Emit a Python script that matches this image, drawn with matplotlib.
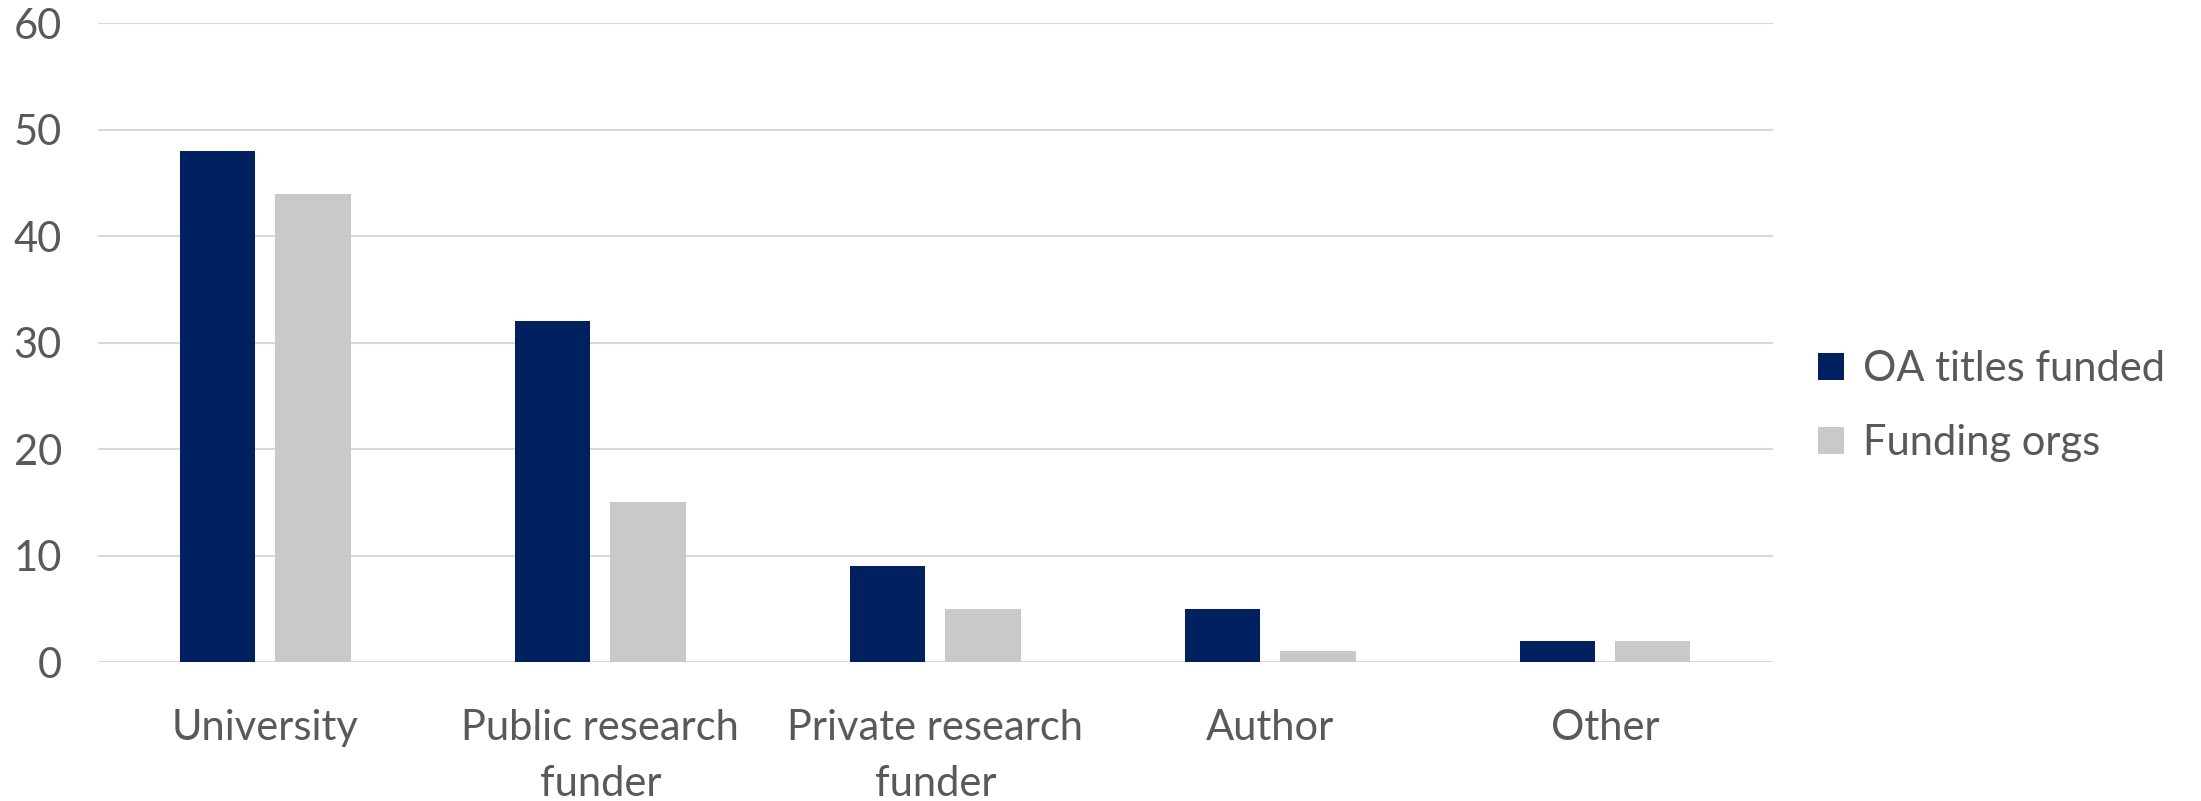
import matplotlib.pyplot as plt
import numpy as np

categories = ['University', 'Public research\nfunder', 'Private research\nfunder', 'Author', 'Other']
oa_titles = [48, 32, 9, 5, 2]
funding_orgs = [44, 15, 5, 1, 2]
series_names = ['OA titles funded', 'Funding orgs']

plt.rcParams['font.family'] = ['Lato', 'DejaVu Sans']
txt = '#595959'

fig = plt.figure(figsize=(22.01, 8.01), dpi=100)
ax = fig.add_axes([0.0445, 0.1735, 0.761, 0.7975])

x = np.arange(len(categories))
w = 0.224
ax.bar(x - 0.142, oa_titles, width=w, color='#002060', label=series_names[0], zorder=3)
ax.bar(x + 0.142, funding_orgs, width=w, color='#C9C9C9', label=series_names[1], zorder=3)

ax.set_xlim(-0.5, len(categories) - 0.5)
ax.set_ylim(0, 60)
ax.set_yticks(range(0, 61, 10))
ax.yaxis.grid(True, color='#D9D9D9', linewidth=1.5, zorder=0)
ax.set_axisbelow(True)
for s in ax.spines.values():
    s.set_visible(False)

ax.set_xticks(x)
ax.set_xticklabels(categories, linespacing=1.57)
ax.tick_params(axis='both', length=0, labelsize=30, labelcolor=txt)
ax.tick_params(axis='y', pad=26)
ax.tick_params(axis='x', pad=34)

ax.legend(loc='center left', bbox_to_anchor=(0.826, 0.493), bbox_transform=fig.transFigure,
          frameon=False, fontsize=30, labelcolor=txt, handlelength=0.62, handleheight=0.62,
          handletextpad=0.45, labelspacing=0.85, borderaxespad=0, borderpad=0)

fig.savefig('out.png', dpi=100)
